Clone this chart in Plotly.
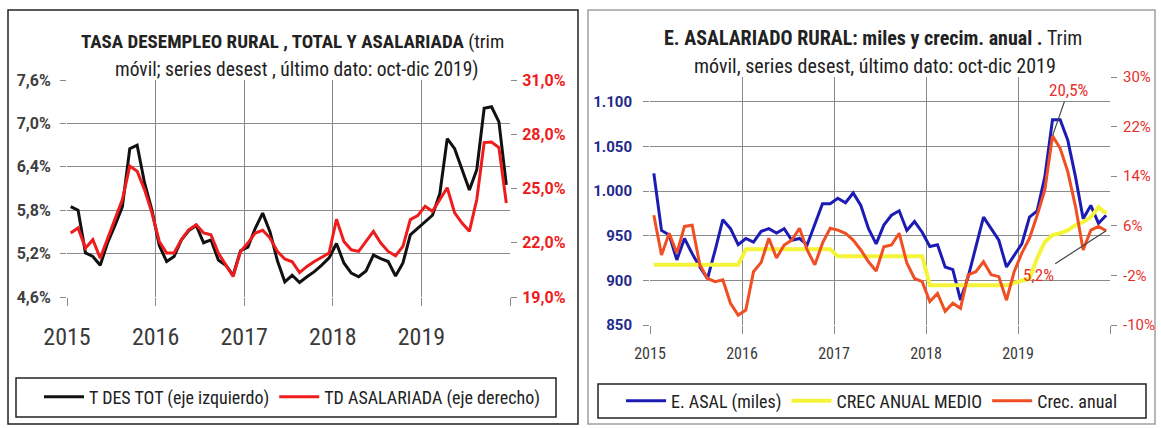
import plotly.graph_objects as go

# ---------------- data ----------------
years = [2015, 2016, 2017, 2018, 2019]
months = list(range(1, 13))

# Left panel (tasa de desempleo rural, %)
t_des_tot = [
    5.85, 5.80, 5.21, 5.16, 5.04, 5.35, 5.59, 5.85, 6.65, 6.70, 6.18, 5.80,
    5.31, 5.09, 5.16, 5.39, 5.52, 5.59, 5.35, 5.39, 5.11, 5.04, 4.90, 5.24,
    5.29, 5.55, 5.76, 5.50, 5.10, 4.81, 4.90, 4.80, 4.88, 4.95, 5.04, 5.14,
    5.34, 5.07, 4.93, 4.88, 4.96, 5.18, 5.13, 5.09, 4.89, 5.07, 5.46, 5.55,
    5.64, 5.73, 6.03, 6.79, 6.65, 6.36, 6.08, 6.36, 7.21, 7.23, 7.02, 6.15,
]
td_asalariada = [
    22.54, 22.82, 21.70, 22.17, 21.15, 22.26, 23.28, 24.39, 26.24, 25.96, 24.94, 23.65,
    22.07, 21.43, 21.43, 22.17, 22.72, 23.00, 22.54, 22.44, 21.43, 20.78, 20.13, 21.52,
    21.98, 22.54, 22.69, 22.26, 21.52, 21.10, 20.95, 20.35, 20.69, 20.96, 21.20, 21.43,
    23.30, 22.07, 21.61, 21.52, 22.07, 22.63, 21.98, 21.52, 21.28, 21.80, 23.28, 23.50,
    24.02, 23.74, 24.39, 25.04, 23.65, 23.09, 22.63, 24.39, 27.54, 27.57, 27.26, 24.20,
]

# Right panel (empleo asalariado rural, miles; crecimiento anual %)
e_asal = [
    1020, 956, 951, 923, 947, 930, 915, 902, 934, 968, 958, 940,
    947, 943, 955, 958, 953, 958, 945, 947, 940, 964, 986, 986,
    992, 987, 998, 984, 958, 941, 962, 973, 978, 956, 966, 954,
    938, 940, 915, 912, 878, 904, 938, 971, 958, 945, 915, 928,
    941, 971, 978, 1016, 1080, 1080, 1057, 1016, 969, 984, 964, 973,
]
crec_medio = [
    -0.3, -0.3, -0.3, -0.3, -0.3, -0.3, -0.3, -0.3, -0.3, -0.3, -0.3, -0.3,
    2.2, 2.2, 2.2, 2.2, 2.2, 2.2, 2.2, 2.2, 2.2, 2.2, 2.2, 2.2,
    1.1, 1.1, 1.1, 1.1, 1.1, 1.1, 1.1, 1.1, 1.1, 1.1, 1.1, 1.1,
    -3.6, -3.6, -3.6, -3.6, -3.6, -3.6, -3.6, -3.6, -3.6, -3.6, -3.6, -3.2,
    -2.8, -2.5, 0.8, 3.4, 4.5, 4.8, 5.3, 6.1, 6.6, 7.4, 9.0, 8.0,
]
crec_anual = [
    7.7, 1.3, 4.8, 1.6, 5.9, 6.1, -0.3, -2.5, -3.0, -2.7, -6.5, -8.4,
    -7.6, -1.4, 0.1, 4.0, 0.8, 2.9, 3.7, 5.6, 2.1, -0.3, 3.2, 5.6,
    5.3, 4.8, 3.7, 2.1, 0.2, -1.3, 2.6, 2.9, 4.8, 0.0, -2.5, -3.0,
    -6.2, -4.9, -7.8, -6.5, -7.3, -1.9, -1.4, 0.2, -1.9, -2.2, -6.0, -1.4,
    1.6, 4.0, 7.7, 11.8, 20.5, 18.5, 14.7, 9.1, 2.1, 5.3, 5.9, 5.2,
]

left_ticks = [4.6, 5.2, 5.8, 6.4, 7.0, 7.6]
right_ticks = [19, 22, 25, 28, 31]
miles_ticks = [850, 900, 950, 1000, 1050, 1100]
pct_ticks = [-10, -2, 6, 14, 22, 30]
year_ticks = years + [2020]
year_text = [str(y) for y in years] + [""]

# decimal-year position of each monthly point (mid-month)
xs = [y + (m - 0.5) / 12 for y in years for m in months]

# ---------------- layout helpers ----------------
W, H = 1161, 428
def px(x):
    return x / W
def py(y):
    return 1 - y / H

NARROW = "Liberation Sans Narrow, Roboto Condensed, DejaVu Sans Condensed, Arial Narrow, Roboto, sans-serif"
TICKF = "Roboto, Open Sans, sans-serif"
GRID = "#8a8a8a"
RED_L = "#ee1c1c"
RED_R = "#f04e23"
BLUE = "#1c1cb4"
YELLOW = "#f4f43a"

fig = go.Figure()
fig.add_trace(go.Scatter(x=xs, y=t_des_tot, mode="lines", name="T DES TOT (eje izquierdo)",
                         line=dict(color="#111111", width=3), xaxis="x", yaxis="y", legend="legend"))
fig.add_trace(go.Scatter(x=xs, y=td_asalariada, mode="lines", name="TD ASALARIADA (eje derecho)",
                         line=dict(color=RED_L, width=3), xaxis="x", yaxis="y2", legend="legend"))
fig.add_trace(go.Scatter(x=xs, y=e_asal, mode="lines", name="E. ASAL (miles)",
                         line=dict(color=BLUE, width=3), xaxis="x2", yaxis="y3", legend="legend2"))
fig.add_trace(go.Scatter(x=xs, y=crec_medio, mode="lines", name="CREC ANUAL MEDIO",
                         line=dict(color=YELLOW, width=4), xaxis="x2", yaxis="y4", legend="legend2"))
fig.add_trace(go.Scatter(x=xs, y=crec_anual, mode="lines", name="Crec. anual",
                         line=dict(color=RED_R, width=3), xaxis="x2", yaxis="y4", legend="legend2"))

def fmt_pct1(v):
    return f"{v:.1f}%".replace(".", ",")

def fmt_miles(v):
    return f"{v:,.0f}".replace(",", ".")

common_x = dict(range=[2015, 2020], tickmode="array", tickvals=year_ticks, ticktext=year_text,
                showgrid=True, gridcolor=GRID, gridwidth=1, ticks="outside", ticklen=8,
                tickcolor=GRID, zeroline=False, showline=False)

fig.update_layout(
    width=W, height=H, margin=dict(l=0, r=0, t=0, b=0, autoexpand=False),
    paper_bgcolor="white", plot_bgcolor="white",
    font=dict(family=NARROW, color="#333333"),
    xaxis=dict(domain=[px(67), px(510)], anchor="y", **common_x,
               tickfont=dict(family=NARROW, size=24, color="#3a3a3a"), ticklabelstandoff=10),
    yaxis=dict(domain=[py(297), py(80)], anchor="x", range=[4.6, 7.6], tickmode="array",
               tickvals=left_ticks, ticktext=[fmt_pct1(v) for v in left_ticks],
               showgrid=True, gridcolor=GRID, ticks="outside", ticklen=6, tickcolor=GRID,
               zeroline=False, showline=False, ticklabelstandoff=6,
               tickfont=dict(family=TICKF, size=16, color="#404040", weight="bold")),
    yaxis2=dict(overlaying="y", side="right", anchor="x", range=[19, 31], tickmode="array",
                tickvals=right_ticks, ticktext=[fmt_pct1(v) for v in right_ticks],
                showgrid=False, ticks="outside", ticklen=6, tickcolor=GRID, zeroline=False,
                showline=False, ticklabelstandoff=2,
                tickfont=dict(family=TICKF, size=16, color=RED_L, weight="bold")),
    xaxis2=dict(domain=[px(650), px(1110)], anchor="y3", **common_x,
                tickfont=dict(family=NARROW, size=16, color="#3a3a3a"), ticklabelstandoff=6),
    yaxis3=dict(domain=[py(325), py(77)], anchor="x2", range=[850, 1128], tickmode="array",
                tickvals=miles_ticks, ticktext=[fmt_miles(v) for v in miles_ticks],
                showgrid=True, gridcolor=GRID, ticks="outside", ticklen=6, tickcolor=GRID,
                zeroline=False, showline=False, ticklabelstandoff=8,
                tickfont=dict(family=TICKF, size=15, color="#1f2a8c", weight="bold")),
    yaxis4=dict(overlaying="y3", side="right", anchor="x2", range=[-10, 30], tickmode="array",
                tickvals=pct_ticks, ticktext=[f"{v}%" for v in pct_ticks],
                showgrid=False, ticks="outside", ticklen=6, tickcolor=GRID, zeroline=False,
                showline=False, ticklabelstandoff=3,
                tickfont=dict(family=TICKF, size=15, color="#e8302a")),
    legend=dict(orientation="h", x=px(292), y=py(397), xanchor="center", yanchor="middle",
                bgcolor="rgba(0,0,0,0)", font=dict(family=NARROW, size=18, color="#222222"),
                itemwidth=40, tracegroupgap=0),
    legend2=dict(orientation="h", x=px(872), y=py(401), xanchor="center", yanchor="middle",
                 bgcolor="rgba(0,0,0,0)", font=dict(family=NARROW, size=18, color="#222222"),
                 itemwidth=40, tracegroupgap=0),
    showlegend=True,
)

# panel frames and legend boxes
fig.add_shape(type="rect", xref="paper", yref="paper", x0=px(8), x1=px(578), y0=py(424), y1=py(10),
              line=dict(color="#222222", width=1.5), layer="below")
fig.add_shape(type="rect", xref="paper", yref="paper", x0=px(588), x1=px(1155), y0=py(424), y1=py(10),
              line=dict(color="#a0a0a0", width=1.5), layer="below")
fig.add_shape(type="rect", xref="paper", yref="paper", x0=px(16), x1=px(556), y0=py(417), y1=py(378),
              line=dict(color="#222222", width=1.5), layer="below")
fig.add_shape(type="rect", xref="paper", yref="paper", x0=px(598), x1=px(1146), y0=py(418), y1=py(384),
              line=dict(color="#222222", width=1.5), layer="below")

# titles
def title(x, y, text, size):
    fig.add_annotation(x=px(x), y=py(y), xref="paper", yref="paper", showarrow=False,
                       xanchor="center", yanchor="middle", text=text,
                       font=dict(family=NARROW, size=size, color="#222222"))

title(292, 42, "<b>TASA DESEMPLEO RURAL , TOTAL Y ASALARIADA</b> (trim", 19)
title(297, 69, "móvil; series desest , último dato: oct-dic 2019)", 19.5)
title(873, 38, "<b>E. ASALARIADO RURAL: miles y crecim. anual .</b> Trim", 20)
title(875, 66, "móvil, series desest, último dato: oct-dic 2019", 20)

# value call-outs
i_peak = crec_anual.index(max(crec_anual))
fig.add_annotation(x=xs[i_peak], y=crec_anual[i_peak], xref="x2", yref="y4",
                   text=fmt_pct1(crec_anual[i_peak]), showarrow=True, arrowhead=0,
                   xanchor="center", yanchor="middle",
                   arrowwidth=1.2, arrowcolor="#444444", ax=16, ay=-46,
                   font=dict(family=NARROW, size=17, color="#e8302a"))
fig.add_annotation(x=xs[-1], y=crec_anual[-1], xref="x2", yref="y4",
                   text=fmt_pct1(crec_anual[-1]), showarrow=True, arrowhead=0,
                   xanchor="center", yanchor="middle",
                   arrowwidth=1.2, arrowcolor="#444444", ax=-68, ay=44,
                   font=dict(family=NARROW, size=17, color="#e8302a"))

fig.write_html("out.html", config={"displayModeBar": False},
               post_script="document.body.style.margin='0px';")
